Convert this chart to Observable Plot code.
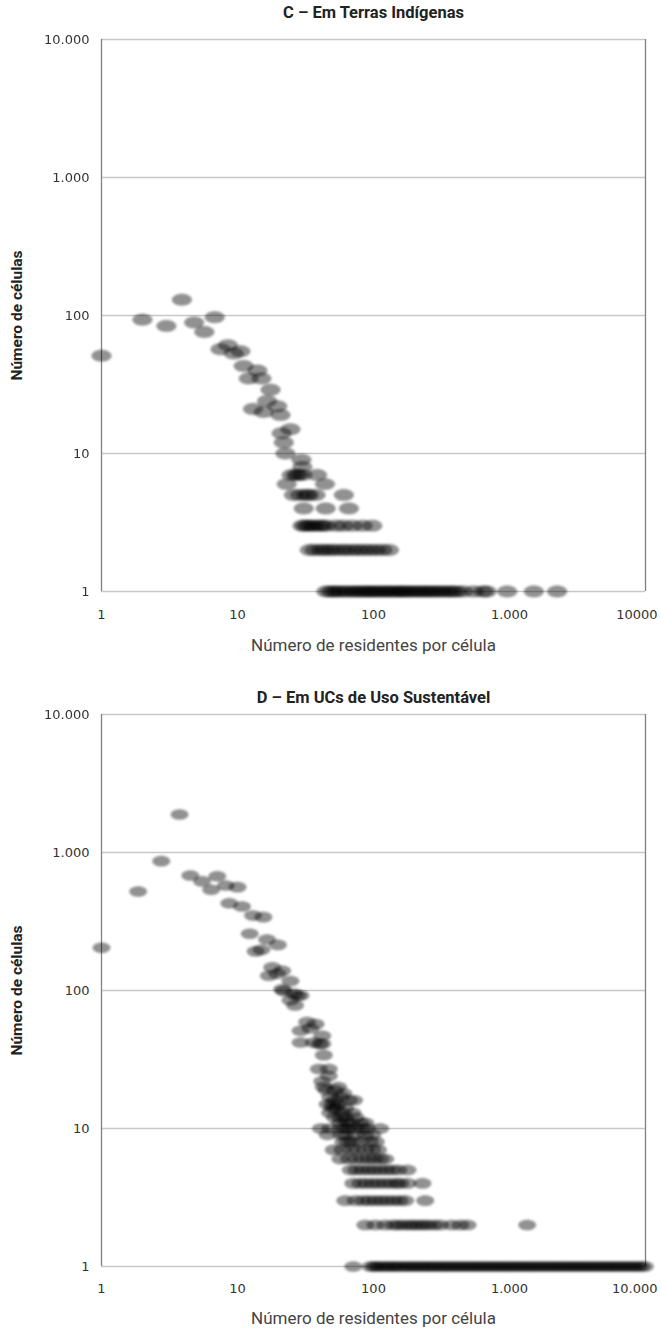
<!DOCTYPE html>
<html><head><meta charset="utf-8">
<script src="https://cdn.jsdelivr.net/npm/d3@7"></script>
<script src="https://cdn.jsdelivr.net/npm/@observablehq/plot@0.6"></script>
<style>
html,body{margin:0;padding:0;background:#fff;overflow:hidden;}
#chart svg{display:block;}
</style></head><body><div id="chart"></div>
<script>
// ---- texts & ticks ----
const titleC = "C – Em Terras Indígenas";
const titleD = "D – Em UCs de Uso Sustentável";
const xTitle = "Número de residentes por célula";
const yTitle = "Número de células";
const xTicks = [1, 10, 100, 1000, 10000];
const xLabelsC = ["1", "10", "100", "1.000", "10000"];
const xLabelsD = ["1", "10", "100", "1.000", "10.000"];
const yTicks = [1, 10, 100, 1000, 10000];
const yLabels = ["1", "10", "100", "1.000", "10.000"];

// ---- Panel C: [residents per cell, number of cells] ----
const scatterC = [
  [1,51],[2,93],[3,84],[3.9,130],[4.8,89],[5.7,76],[6.8,97],[7.5,57],[8.5,61],[9.4,53],
  [10.5,55],[11.1,43],[12.1,35],[13,21],[14,40],[15,35],[15.6,20],[16.5,24],[17.5,29],
  [19.6,22],[20.7,19],[21.1,14],[21.9,12],[22.5,10],[24.5,15],[29.5,9],[30,8],
  [25,7],[27,7],[28,7],[30,7],[38.5,7],[23,6],[44,6],
  [26,5],[29,5],[32,5],[33.5,5],[37.5,5],[60.5,5],[30.7,4],[44.5,4],[66,4]
];
const cRow3 = [30, 31.5, 33, 35, 37, 40, 42, 45, 53, 60, 70, 83, 98];
const cRow2 = [34, 37, 41, 44, 48, 52, 58, 63, 70, 77, 85, 94, 104, 116, 130];
const cRow1 = [45, 48, 51, 54, 57, 62, 65, 71, 74, 79, 84, 88, 93, 97, 103, 108, 115, 122, 127, 135,
  142, 151, 158, 166, 175, 186, 197, 209, 221, 236, 248, 263, 281, 297, 318, 341, 362, 388, 412,
  457, 546, 640, 680, 962, 1510, 2240];

// ---- Panel D ----
const scatterD = [
  [1,204],[1.86,522],[2.75,865],[3.75,1885],[4.5,681],[5.5,617],[6.4,537],[7.1,673],[8.2,577],
  [8.7,429],[10,561],[10.8,406],[13,349],[15.5,340],[12.3,258],[16.5,234],[19.8,214],[13.6,192],
  [15,197],[18,147],[21.3,139],[17,128],[19.6,132],[24.5,117],[21.3,102],[21.9,99],[25.9,95],
  [27.5,92],[29.1,92],[24.5,85],[26.5,78],
  [32.5,59],[37.5,57],[29.1,51],[34.4,53],[42,47],[29.1,42],[36.4,42],[40,41],[42,41],
  [43.1,34],[39.6,27],[46.9,27],[42,22],[46.9,24],
  [43,20],[55,20],[45,19],[52,19],[60,18],[48,17],[57,17],[66,16],[72,16],[52,16],
  [46,15],[50,15],[55,15],[50,14],[53,14],[62,14],[48,13],[59,13],[70,13],
  [52,12],[57,12],[62,12],[74,12],[57,11],[64,11],[68,11],[80,11],[87,11],
  [41,10],[48,10],[57,10],[62,10],[66,10],[74,10],[83,10],[90,10],[112,10],
  [46,9],[58,9],[62,9],[74,9],[87,9],[98,9],
  [60,8],[65,8],[70,8],[80,8],[94,8],[104,8],
  [51,7],[59,7],[68,7],[76,7],[87,7],[98,7],[108,7],
  [57,6],[66,6],[74,6],[83,6],[92,6],[101,6],[112,6],[122,6],
  [68,5],[75,5],[83,5],[92,5],[101,5],[112,5],[124,5],[137,5],[152,5],[178,5],
  [71,4],[80,4],[88,4],[98,4],[108,4],[120,4],[133,4],[147,4],[157,4],[178,4],[229,4]
];
const dRow3 = [62, 74, 84, 93, 103, 114, 126, 140, 155, 171, 240];
const dRow2 = [87, 103, 122, 140, 152, 166, 183, 197, 215, 233, 253, 280, 310, 375, 435, 492, 1350];
const dRow1 = [71, 95, 101, 106, 112, 120, 126, 135, 142, 150, 160, 171, 180, 193, 203, 217, 229, 245,
  258, 276, 290, 311, 328, 350, 369, 395, 417, 445, 470, 502, 529, 566, 596, 637, 672, 718, 758, 808,
  853, 911, 962, 1026, 1083, 1157, 1221, 1303, 1376, 1468, 1550, 1655, 1746, 1864, 1968, 2100, 2217,
  2367, 2498, 2667, 2815, 3005, 3172, 3386, 3574, 3815, 4027, 4298, 4538, 4843, 5112, 5457, 5760,
  6148, 6490, 6927, 7313, 7806, 8240, 8794, 9285, 9910];

function table(scatter, r1, r2, r3) {
  return [
    ...scatter.map(([x, y]) => ({x, y})),
    ...r3.map(x => ({x, y: 3})),
    ...r2.map(x => ({x, y: 2})),
    ...r1.map(x => ({x, y: 1}))
  ];
}

// ellipse symbol (horizontally stretched)
const ellipse = {
  draw(ctx, size) {
    const r = Math.sqrt(size / Math.PI), a = r * 1.6, b = r * 0.95, k = 0.5523;
    ctx.moveTo(a, 0);
    ctx.bezierCurveTo(a, k * b, k * a, b, 0, b);
    ctx.bezierCurveTo(-k * a, b, -a, k * b, -a, 0);
    ctx.bezierCurveTo(-a, -k * b, -k * a, -b, 0, -b);
    ctx.bezierCurveTo(k * a, -b, a, -k * b, a, 0);
    ctx.closePath();
  }
};

const tickFont = "DejaVu Sans, Verdana, sans-serif";
const titleFont = "Roboto, 'Open Sans', sans-serif";

function panel({id, title, data, xLabels, height, mt, mb, r, titleDy, tickDy, xTitleDy}) {
  const svg = Plot.plot({
    width: 661, height,
    marginLeft: 101, marginRight: 16, marginTop: mt, marginBottom: mb,
    x: {type: "log", domain: [1, 10000], axis: null},
    y: {type: "log", domain: [1, 10000], axis: null},
    style: {background: "#fff"},
    marks: [
      Plot.ruleY(yTicks, {y: d => d, stroke: "#c8c8c8", strokeWidth: 1.6, dx: 0}),
      Plot.ruleX([xTicks[0], xTicks[xTicks.length - 1]], {x: d => d, stroke: "#808080", strokeWidth: 1.3}),
      Plot.dot(data, {x: "x", y: "y", r, symbol: ellipse, fill: "#000", fillOpacity: 0.43, stroke: null}),
      Plot.text(yTicks, {y: d => d, text: (d, i) => yLabels[i], frameAnchor: "left", textAnchor: "end",
        dx: -12, fontFamily: tickFont, fontSize: 13, fill: "#333"}),
      Plot.text(xTicks.slice(0, 4), {x: d => d, text: (d, i) => xLabels[i], frameAnchor: "bottom",
        lineAnchor: "middle", dy: tickDy, fontFamily: tickFont, fontSize: 13, fill: "#333"}),
      Plot.text(xTicks.slice(4), {x: d => d, text: () => xLabels[4], frameAnchor: "bottom", textAnchor: "end",
        lineAnchor: "middle", dx: 12, dy: tickDy, fontFamily: tickFont, fontSize: 13, fill: "#333"}),
      Plot.text([title], {text: d => d, frameAnchor: "top", lineAnchor: "middle", dy: titleDy,
        fontFamily: titleFont, fontWeight: "bold", fontSize: 16.5, fill: "#222"}),
      Plot.text([xTitle], {text: d => d, frameAnchor: "bottom", lineAnchor: "middle", dy: xTitleDy,
        fontFamily: titleFont, fontSize: 17, fill: "#444"}),
      Plot.text([yTitle], {text: d => d, frameAnchor: "left", rotate: -90, lineAnchor: "middle",
        textAnchor: "middle", dx: -84, fontFamily: titleFont, fontWeight: "bold", fontSize: 15.5, fill: "#222"})
    ]
  });
  // soft blur on the markers
  const ns = "http://www.w3.org/2000/svg";
  const defs = document.createElementNS(ns, "defs");
  const filter = document.createElementNS(ns, "filter");
  filter.setAttribute("id", "blur" + id);
  filter.setAttribute("x", "-5%"); filter.setAttribute("y", "-5%");
  filter.setAttribute("width", "110%"); filter.setAttribute("height", "110%");
  const fe = document.createElementNS(ns, "feGaussianBlur");
  fe.setAttribute("stdDeviation", "0.9");
  filter.appendChild(fe); defs.appendChild(filter);
  svg.insertBefore(defs, svg.firstChild);
  const g = svg.querySelector('g[aria-label="dot"]');
  if (g) g.setAttribute("filter", `url(#blur${id})`);
  return svg;
}

const root = document.getElementById("chart");
root.appendChild(panel({id: "C", title: titleC, data: table(scatterC, cRow1, cRow2, cRow3), xLabels: xLabelsC,
  height: 665, mt: 39, mb: 74, r: 6.3, titleDy: -27, tickDy: 23, xTitleDy: 54}));
root.appendChild(panel({id: "D", title: titleD, data: table(scatterD, dRow1, dRow2, dRow3), xLabels: xLabelsD,
  height: 666, mt: 49, mb: 65, r: 5.6, titleDy: -17, tickDy: 22, xTitleDy: 52}));
</script>
</body></html>
